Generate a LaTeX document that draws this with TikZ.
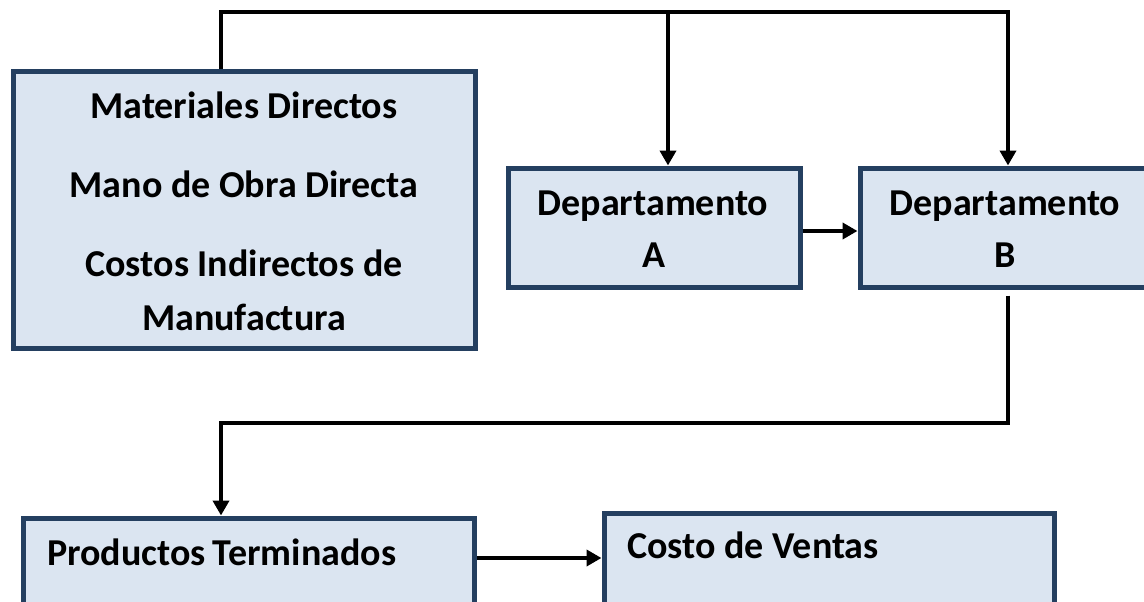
\documentclass[tikz,border=0pt]{standalone}
\usepackage{fontspec}
\setmainfont{Carlito}
\usetikzlibrary{arrows.meta}
\definecolor{boxfill}{HTML}{DBE5F1}
\definecolor{boxline}{HTML}{243F60}
\begin{document}
\begin{tikzpicture}[x=1pt,y=-1pt,
  box/.style={draw=boxline, fill=boxfill, line width=5pt, rectangle, inner sep=0pt, anchor=north west},
  lbl/.style={font=\fontsize{38}{42}\selectfont\bfseries, inner sep=0pt, anchor=base},
  lbll/.style={lbl, anchor=base west},
  conn/.style={line width=4.5pt, draw=black},
  tip/.style={-{Triangle[length=15pt,width=16pt]}}]
\useasboundingbox (0,0) rectangle (1144,602);
\clip (0,0) rectangle (1144,602);
\fill[white] (0,0) rectangle (1144,602);
% boxes (positions are outer corners)
\node[box, minimum width=462pt, minimum height=276pt] (big) at (11,69.5) {};
\node[box, minimum width=292pt, minimum height=119pt] (depA) at (505.5,165.5) {};
\node[box, minimum width=292pt, minimum height=119pt] (depB) at (857.5,165.5) {};
\node[box, minimum width=451pt, minimum height=150pt] (prod) at (20.5,515.5) {};
\node[box, minimum width=450pt, minimum height=150pt] (cost) at (601.5,510.5) {};
% texts
\node[lbl] (t1) at (244,118) {Materiales Directos};
\node[lbl] (t2) at (244,197) {Mano de Obra Directa};
\node[lbl] (t3) at (244,276) {Costos Indirectos de};
\node[lbl] (t4) at (244,330) {Manufactura};
\node[lbl] (t5) at (653,215) {Departamento};
\node[lbl] (t6) at (654,267) {A};
\node[lbl] (t7) at (1005,215) {Departamento};
\node[lbl] (t8) at (1005,267) {B};
\node[lbll] (t9) at (47,565) {Productos\hspace{0.18em}Terminados};
\node[lbll] (t10) at (627,558) {Costo de Ventas};
% junction coordinates
\coordinate (jL) at (221,12);
\coordinate (jA) at (668,12);
\coordinate (jR) at (1008,12);
\coordinate (rAB) at (0,231);
\coordinate (jB) at (1008,423);
\coordinate (jP) at (221,423);
\coordinate (rPC) at (0,558);
% connectors
\draw[conn,tip] (big.north -| jL) -- (jL) -- (jR) -- (depB.north -| jR);
\draw[conn,tip] (jA) -- (depA.north -| jA);
\draw[conn,tip] (depA.east |- rAB) -- (depB.west |- rAB);
\draw[conn,tip,shorten <=6pt] (depB.south -| jB) -- (jB) -- (jP) -- (prod.north -| jP);
\draw[conn,tip] (prod.east |- rPC) -- (cost.west |- rPC);
\end{tikzpicture}
\end{document}
